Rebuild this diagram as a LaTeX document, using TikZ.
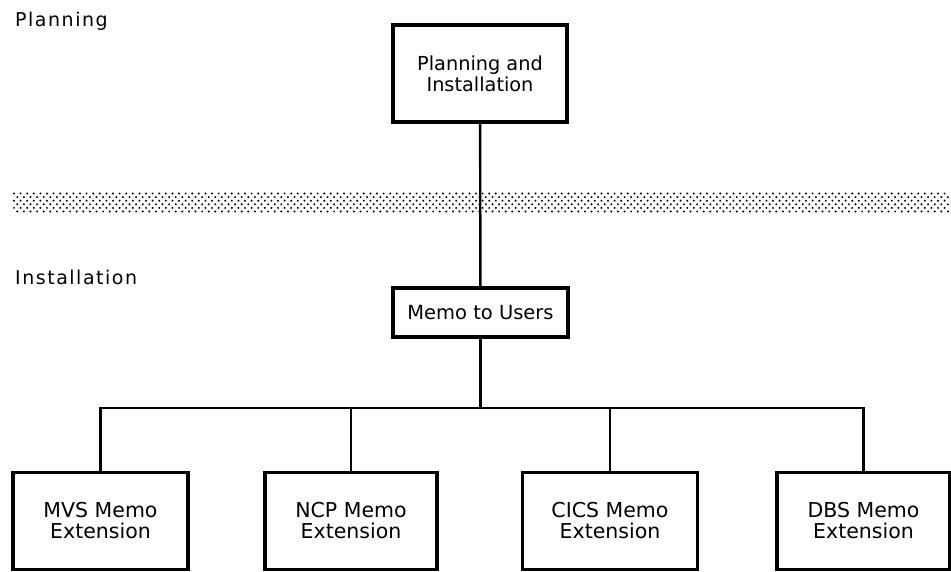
\documentclass[tikz,border=0pt]{standalone}
\usepackage{fontspec}
\setmainfont{DejaVu Sans}
\newfontfamily\lblfont[LetterSpace=8]{DejaVu Sans}
\begin{document}
\begin{tikzpicture}[x=1pt,y=-1pt,
  box/.style={draw=black, line width=3.6pt, rectangle, align=center, inner sep=0pt},
  conn/.style={draw=black, line width=2.4pt},
  lbl/.style={anchor=base west, inner sep=0pt, font=\lblfont\fontsize{19}{22}\selectfont}]
\useasboundingbox (0,0) rectangle (951,572);
% dotted band
\foreach \r in {0,...,5} {
  \pgfmathsetmacro{\yy}{193.5+\r*3.6}
  \pgfmathsetmacro{\sh}{mod(\r,2)*3.3}
  \foreach \c in {0,...,141} {
    \fill[black] ({14+\sh+\c*6.6},\yy) circle (1.1pt);
  }
}
\node[lbl] (lplan) at (15,27) {Planning};
\node[lbl] (linst) at (15,285) {Installation};
\node[box, minimum width=174pt, minimum height=97pt, font=\fontsize{19.3}{21}\selectfont] (top) at (480,73.5) {Planning and\\Installation};
\node[box, minimum width=175pt, minimum height=49pt, font=\fontsize{19.5}{20}\selectfont] (memo) at (480.5,312.5) {Memo to Users};
\node[box, minimum width=175pt, minimum height=97pt, font=\fontsize{20.5}{21}\selectfont] (mvs) at (100.5,521) {MVS Memo\\Extension};
\node[box, minimum width=172pt, minimum height=97pt, font=\fontsize{20.5}{21}\selectfont] (ncp) at (351,521) {NCP Memo\\Extension};
\node[box, minimum width=175pt, minimum height=97pt, font=\fontsize{20.5}{21}\selectfont] (cics) at (610,521) {CICS Memo\\Extension};
\node[box, minimum width=173pt, minimum height=97pt, font=\fontsize{20.5}{21}\selectfont] (dbs) at (863.5,521) {DBS Memo\\Extension};
\coordinate (bar) at (480,408);
\draw[conn] (top) -- (memo);
\draw[conn] (memo) -- (memo |- bar);
\draw[conn] (mvs.north) -- (mvs |- bar) -- (dbs |- bar) -- (dbs.north);
\draw[conn] (ncp.north) -- (ncp |- bar);
\draw[conn] (cics.north) -- (cics |- bar);
\end{tikzpicture}
\end{document}
